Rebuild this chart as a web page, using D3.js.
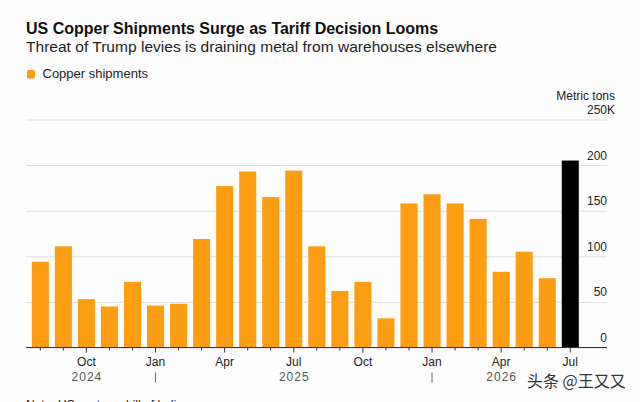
<!DOCTYPE html>
<html>
<head>
<meta charset="utf-8">
<script src="https://cdn.jsdelivr.net/npm/d3@7"></script>
<style>
  html, body { margin: 0; padding: 0; background: #fff; }
  svg { display: block; font-family: "Liberation Sans", Arial, Helvetica, sans-serif; }
</style>
</head>
<body>
<svg id="chart" width="640" height="402"></svg>
<script>
// ---- data ----
const months = ["2024-08","2024-09","2024-10","2024-11","2024-12","2025-01","2025-02","2025-03",
                "2025-04","2025-05","2025-06","2025-07","2025-08","2025-09","2025-10","2025-11",
                "2025-12","2026-01","2026-02","2026-03","2026-04","2026-05","2026-06","2026-07"];
const shipments = [94, 111, 53, 45, 72, 46, 48, 119, 177, 193, 165, 194,
                   111, 62, 72, 32, 158, 168, 158, 141, 83, 105, 76, 205];
const monthLabels = {"2024-10":"Oct","2025-01":"Jan","2025-04":"Apr","2025-07":"Jul",
                     "2025-10":"Oct","2026-01":"Jan","2026-04":"Apr","2026-07":"Jul"};
const yearLabels = [["2024-10","2024"],["2025-07","2025"],["2026-04","2026"]];
const yearSeparators = ["2025-01","2026-01"];
const yTicks = [0, 50, 100, 150, 200, 250];
const highlightMonth = "2026-07";

const title = "US Copper Shipments Surge as Tariff Decision Looms";
const subtitle = "Threat of Trump levies is draining metal from warehouses elsewhere";
const legendLabel = "Copper shipments";
const unitLabel = "Metric tons";
const noteText = "Note: US customs bill of lading";
const watermark = "头条 @王又又";

// ---- layout ----
const svg = d3.select("#chart");
const W = 640, H = 402;
const plotLeft = 26, plotRight = 607;
const x = d3.scaleBand().domain(months).range([28.8, 581.8]).paddingInner(0.26).paddingOuter(0.13);
const y = d3.scaleLinear().domain([0, 250]).range([347.5, 119.5]);

svg.append("rect").attr("width", W).attr("height", H).attr("fill", "#fdfdfd");

function fitText(sel, w) {
  const n = sel.node();
  const len = n.getComputedTextLength();
  if (Math.abs(len - w) / w > 0.01) sel.attr("textLength", w).attr("lengthAdjust", "spacingAndGlyphs");
}

// titles
const t1 = svg.append("text").attr("x", 26).attr("y", 34).attr("font-size", 16)
  .attr("font-weight", "bold").attr("fill", "#111").text(title);
fitText(t1, 410);
const t2 = svg.append("text").attr("x", 26).attr("y", 52.3).attr("font-size", 15)
  .attr("fill", "#222").text(subtitle);
fitText(t2, 471);

// legend
svg.append("rect").attr("x", 27).attr("y", 70).attr("width", 8).attr("height", 8.5)
  .attr("rx", 1.5).attr("fill", "#fd9e12");
svg.append("text").attr("x", 42.5).attr("y", 77.7).attr("font-size", 13)
  .attr("fill", "#222").text(legendLabel);

// unit label
svg.append("text").attr("x", 615).attr("y", 100).attr("font-size", 12)
  .attr("text-anchor", "end").attr("fill", "#222").text(unitLabel);

// y axis / gridlines
const yAxis = d3.axisRight(y).tickValues(yTicks).tickSize(plotRight - plotLeft)
  .tickFormat(d => d3.format("d")(d));
const gy = svg.append("g").attr("transform", `translate(${plotLeft},0)`).call(yAxis);
gy.select(".domain").remove();
gy.selectAll(".tick line").attr("stroke", "#dedede").attr("stroke-width", 1);
gy.selectAll(".tick text").attr("x", plotRight - plotLeft).attr("dy", -6)
  .attr("text-anchor", "end").attr("font-size", 12).attr("fill", "#222")
  .attr("font-family", "Liberation Sans, Arial, sans-serif");
gy.selectAll(".tick").filter(d => d === 250).append("text")
  .attr("x", plotRight - plotLeft).attr("dy", -6).attr("font-size", 12).attr("fill", "#222")
  .attr("text-anchor", "start").attr("font-family", "Liberation Sans, Arial, sans-serif").text("K");

// bars
svg.append("g").selectAll("rect").data(months).join("rect")
  .attr("x", d => x(d))
  .attr("width", x.bandwidth())
  .attr("y", (d, i) => y(shipments[i]))
  .attr("height", (d, i) => y(0) - y(shipments[i]))
  .attr("fill", d => d === highlightMonth ? "#000" : "#fd9e12");

// x axis
const xAxis = d3.axisBottom(x).tickSizeInner(3).tickSizeOuter(0).tickPadding(7)
  .tickFormat(d => monthLabels[d] || "");
const gx = svg.append("g").attr("transform", `translate(0,${y(0)})`).call(xAxis);
gx.select(".domain").remove();
gx.selectAll(".tick line").attr("stroke", "#333")
  .attr("y2", d => monthLabels[d] ? 5 : 3);
gx.selectAll(".tick text").attr("font-size", 12).attr("fill", "#222")
  .attr("font-family", "Liberation Sans, Arial, sans-serif").attr("dy", "0.71em");
svg.append("line").attr("x1", plotLeft).attr("x2", plotRight)
  .attr("y1", y(0)).attr("y2", y(0)).attr("stroke", "#333").attr("stroke-width", 1);

// year labels
yearLabels.forEach(([m, label]) => {
  svg.append("text").attr("x", x(m) + x.bandwidth() / 2 + 0.5).attr("y", 381)
    .attr("text-anchor", "middle").attr("font-size", 12).attr("letter-spacing", 1)
    .attr("fill", "#555").text(label);
});
yearSeparators.forEach(m => {
  const cx = x(m) + x.bandwidth() / 2;
  svg.append("line").attr("x1", cx).attr("x2", cx).attr("y1", 372.5).attr("y2", 382.5)
    .attr("stroke", "#666").attr("stroke-width", 1);
});

// note (cut off at the bottom)
svg.append("text").attr("x", 26).attr("y", 408.5).attr("font-size", 12)
  .attr("fill", "#222").text(noteText);

// watermark
svg.append("text").attr("x", 527).attr("y", 387).attr("font-size", 16)
  .attr("font-family", "Noto Sans CJK SC, sans-serif")
  .attr("fill", "#333").attr("stroke", "#fff").attr("stroke-width", 2.5)
  .attr("paint-order", "stroke").text(watermark);
</script>
</body>
</html>
